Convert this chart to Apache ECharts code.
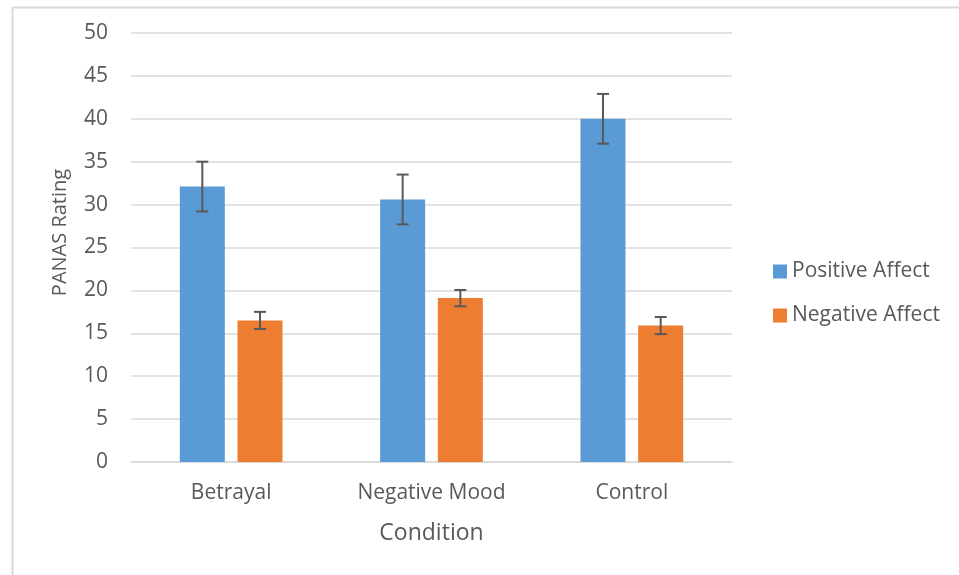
<!DOCTYPE html>
<html><head><meta charset="utf-8">
<script src="https://cdn.jsdelivr.net/npm/echarts@6/dist/echarts.min.js"></script>
<style>html,body{margin:0;padding:0;background:#fff}#c{width:959px;height:575px}</style>
</head><body><div id="c"></div>
<script>
const categories = ['Betrayal', 'Negative Mood', 'Control'];
const positiveAffect = [32.1, 30.6, 40.0];
const positiveErr = [2.9, 2.9, 2.9];
const negativeAffect = [16.5, 19.1, 15.9];
const negativeErr = [1.0, 0.95, 1.0];
const yTicks = [0, 5, 10, 15, 20, 25, 30, 35, 40, 45, 50];

const FONT = '"Open Sans", sans-serif';
const TXT = '#595959';
const BAR_W = 45;
const GAP = 12.7;

function errSeries(name, vals, errs, offsetSign) {
  return {
    type: 'custom',
    name: name + ' err',
    z: 10,
    silent: true,
    data: vals.map((v, i) => [i, v - errs[i], v + errs[i]]),
    renderItem: function (params, api) {
      const lo = api.coord([api.value(0), api.value(1)]);
      const hi = api.coord([api.value(0), api.value(2)]);
      const x = lo[0] + offsetSign * (BAR_W + GAP) / 2;
      const cap = 6;
      const style = { stroke: '#595959', lineWidth: 2 };
      return {
        type: 'group',
        children: [
          { type: 'line', shape: { x1: x, y1: lo[1], x2: x, y2: hi[1] }, style: style },
          { type: 'line', shape: { x1: x - cap, y1: lo[1], x2: x + cap, y2: lo[1] }, style: style },
          { type: 'line', shape: { x1: x - cap, y1: hi[1], x2: x + cap, y2: hi[1] }, style: style }
        ]
      };
    }
  };
}

const chart = echarts.init(document.getElementById('c'), null, { renderer: 'canvas' });
chart.setOption({
  animation: false,
  backgroundColor: '#fff',
  graphic: [{
    type: 'rect', left: 10, top: 5,
    shape: { width: 1200, height: 800 },
    style: { fill: 'none', stroke: '#d9d9d9', lineWidth: 2 }
  }],
  grid: { left: 131, right: 227, top: 33, bottom: 113 },
  legend: {
    orient: 'vertical', left: 768, top: 256,
    itemWidth: 14, itemHeight: 14, itemGap: 23,
    icon: 'rect',
    data: ['Positive Affect', 'Negative Affect'],
    textStyle: { fontFamily: FONT, fontSize: 21, color: TXT }
  },
  xAxis: {
    type: 'category',
    data: categories,
    name: 'Condition',
    nameLocation: 'middle',
    nameGap: 60,
    nameTextStyle: { fontFamily: FONT, fontSize: 23, color: TXT },
    axisLine: { show: true, lineStyle: { color: '#d9d9d9', width: 1.5 } },
    axisTick: { show: false },
    axisLabel: { fontFamily: FONT, fontSize: 21, color: TXT, margin: 21 }
  },
  yAxis: {
    type: 'value',
    min: 0, max: 50, interval: 5,
    name: 'PANAS Rating',
    nameLocation: 'middle',
    nameGap: 61,
    nameRotate: 90,
    nameTextStyle: { fontFamily: FONT, fontSize: 20, color: TXT, padding: [0, 0, 0, 30] },
    axisLine: { show: false },
    axisTick: { show: false },
    splitLine: { lineStyle: { color: '#d9d9d9', width: 1.5 } },
    axisLabel: {
      fontFamily: FONT, fontSize: 21, color: TXT, margin: 23,
      formatter: v => yTicks.indexOf(v) >= 0 ? String(v) : ''
    }
  },
  series: [
    {
      name: 'Positive Affect', type: 'bar', data: positiveAffect,
      barWidth: BAR_W, barGap: (GAP / BAR_W * 100).toFixed(1) + '%',
      itemStyle: { color: '#5B9BD5' }
    },
    {
      name: 'Negative Affect', type: 'bar', data: negativeAffect,
      barWidth: BAR_W,
      itemStyle: { color: '#ED7D31' }
    },
    errSeries('Positive Affect', positiveAffect, positiveErr, -1),
    errSeries('Negative Affect', negativeAffect, negativeErr, 1)
  ]
});
</script></body></html>
